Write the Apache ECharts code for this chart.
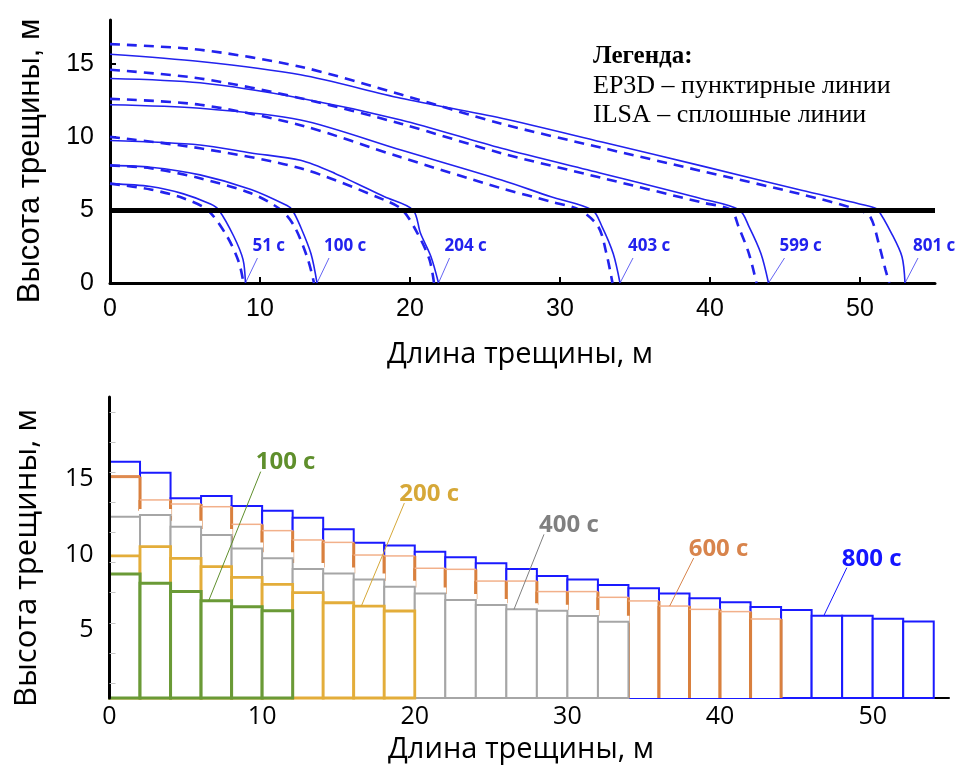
<!DOCTYPE html>
<html><head><meta charset="utf-8">
<script src="https://cdn.jsdelivr.net/npm/echarts@6/dist/echarts.min.js"></script>
<style>html,body{margin:0;padding:0;background:#fff}#c{width:958px;height:776px}</style>
</head><body><div id="c"></div>
<script>
// ================= TOP CHART DATA (crack profiles, [length m, height m]) =================
const topLabels = ['51 с', '100 с', '204 с', '403 с', '599 с', '801 с'];
// ILSA – solid lines
const ILSA_51  = [[0,6.8],[2.7,6.6],[4.9,6.1],[6.7,5.4],[7.25,5.0],[8.25,3.2],[8.87,1.6],[9.03,0]];
const ILSA_100 = [[0,8.05],[2.7,7.92],[6.0,7.4],[9.4,6.4],[11.8,5.3],[12.15,5.0],[12.7,3.86],[13.4,2.0],[13.8,0]];
const ILSA_204 = [[0,9.75],[6.0,9.45],[9.4,8.9],[12.7,8.4],[15.0,7.5],[18.3,5.9],[20.2,5.0],[20.7,3.4],[21.4,1.8],[21.9,0]];
const ILSA_403 = [[0,12.2],[6.0,11.96],[12.7,11.16],[19.4,9.1],[26.1,7.05],[29.4,5.9],[32.15,5.0],[32.8,3.86],[33.55,2.0],[34.0,0]];
const ILSA_599 = [[0,14.0],[6.0,13.7],[12.7,12.65],[19.4,11.16],[26.1,9.22],[32.8,7.5],[39.5,5.75],[41.96,5.0],[42.6,3.86],[43.4,2.0],[43.9,0]];
const ILSA_801 = [[0,15.66],[6.0,15.16],[12.7,14.25],[19.4,12.65],[26.1,11.28],[32.8,9.65],[39.5,8.0],[46.1,6.35],[50.8,5.2],[51.2,5.0],[52.1,3.4],[52.8,1.8],[53.0,0]];
// EP3D – dashed lines
const EP3D_51  = [[0,6.8],[2.7,6.4],[4.9,5.8],[6.5,5.0],[7.8,3.2],[8.6,1.4],[8.9,0]];
const EP3D_100 = [[0,8.05],[2.7,7.85],[6.0,7.17],[9.4,6.14],[11.4,5.0],[12.3,3.86],[13.2,1.6],[13.6,0]];
const EP3D_204 = [[0,10.0],[6.0,9.22],[12.7,7.85],[18.3,5.68],[19.5,5.0],[20.5,3.4],[21.3,1.6],[21.6,0]];
const EP3D_403 = [[0,12.6],[6.0,12.2],[12.7,10.8],[19.4,8.6],[26.1,6.48],[29.4,5.57],[31.3,5.0],[32.55,3.86],[33.1,2.0],[33.5,0]];
const EP3D_599 = [[0,14.6],[6.0,14.0],[12.7,12.65],[19.4,10.9],[26.1,8.88],[32.8,7.19],[39.5,5.5],[41.4,5.0],[41.9,3.86],[42.6,2.0],[43.1,0]];
const EP3D_801 = [[0,16.35],[6.0,15.96],[12.7,14.8],[19.4,12.9],[26.1,10.9],[32.8,9.25],[39.5,7.65],[46.1,6.07],[49.9,5.0],[50.7,4.5],[51.3,2.5],[51.7,0.9],[51.95,0]];
const barrierDepth = 5;
const topXTicks = [0, 10, 20, 30, 40, 50];
const topYTicks = [0, 5, 10, 15];

// ================= BOTTOM CHART DATA (cell heights, m; cells 2 m wide) =================
const cellWidth = 2;
const bottomLabels = ['800 с', '600 с', '400 с', '200 с', '100 с'];
const H_800 = [15.70,14.97,13.27,13.42,12.76,12.45,11.98,11.21,10.32,10.14,9.72,9.35,8.95,8.57,8.11,7.88,7.51,7.29,6.95,6.62,6.36,6.05,5.85,5.47,5.47,5.27,5.09];
const H_600 = [14.71,13.16,12.89,12.71,11.54,11.12,10.50,10.34,9.50,9.44,8.62,8.55,7.77,7.77,7.07,7.07,6.69,6.45,6.11,5.89,5.74,5.25];
const H_400 = [12.05,12.16,11.38,10.83,9.94,9.28,8.57,8.28,7.88,7.40,6.95,6.51,6.18,5.89,5.80,5.45,5.07];
const H_200 = [9.44,10.06,9.28,8.73,8.02,7.55,7.00,6.33,6.11,5.78];
const H_100 = [8.24,7.62,7.07,6.47,6.07,5.80];
// where each label's leader touches its profile (crack length, m)
const bottomLabelAnchorX = [46.8, 36.7, 26.5, 16.5, 6.5];
const bottomXTicks = [0, 10, 20, 30, 40, 50];
const bottomYTicks = [5, 10, 15];
const bottomYMinorTicks = [1, 3, 5, 7, 9, 11, 13, 15, 17, 19];

// ================= STYLES =================
const BLUE_TOP = '#2222ee';
const bottomColors = ['#1a1aff', '#d98540', '#a6a6a6', '#e3ad3a', '#6a9a36'];
const bottomLabelColors = ['#1515ff', '#d8844c', '#808080', '#d6a838', '#5f8f2c'];
const topLabelOffsets = [[12,-25],[12,-25],[11,-25],[13,-25],[16,-25],[13,-25]];
const bottomLabelOffsets = [[23,-48],[24,-48],[30,-75],[43,-103],[52,-129]];

const chart = echarts.init(document.getElementById('c'), null, {renderer: 'canvas'});

function cells(h) {
  return h.map((v, i) => [i * cellWidth, (i + 1) * cellWidth, v]);
}

function rectRender(color, lw) {
  return function (params, api) {
    const p0 = api.coord([api.value(0), api.value(2)]);
    const p1 = api.coord([api.value(1), 0]);
    return {
      type: 'rect',
      shape: {x: p0[0], y: p0[1], width: p1[0] - p0[0], height: p1[1] - p0[1]},
      style: {fill: '#ffffff', stroke: color, lineWidth: lw}
    };
  };
}
// orange profile: thin light top, thick sides
function orangeRender(params, api) {
  const p0 = api.coord([api.value(0), api.value(2)]);
  const p1 = api.coord([api.value(1), 0]);
  const first = params.dataIndex === 0;
  return {
    type: 'group',
    children: [
      {type: 'rect', shape: {x: p0[0], y: p0[1], width: p1[0] - p0[0], height: p1[1] - p0[1]}, style: {fill: '#ffffff'}},
      {type: 'line', shape: {x1: p0[0], y1: p0[1], x2: p0[0], y2: p1[1]}, style: {stroke: '#d9803e', lineWidth: 3}},
      {type: 'line', shape: {x1: p1[0], y1: p0[1], x2: p1[0], y2: p1[1]}, style: {stroke: '#d9803e', lineWidth: 3}},
      {type: 'line', shape: {x1: p0[0], y1: p0[1], x2: p1[0], y2: p0[1]}, style: {stroke: first ? '#df8a4f' : '#f2b08a', lineWidth: first ? 3 : 1.5}}
    ]
  };
}
// white halo above the grey profile
function haloRender(params, api) {
  const p0 = api.coord([api.value(0), api.value(2)]);
  const p1 = api.coord([api.value(1), 0]);
  return {type: 'rect', shape: {x: p0[0] - 1, y: p0[1] - 6, width: p1[0] - p0[0] + 2, height: 7}, style: {fill: '#ffffff'}};
}

function annotRender(text, color, off, font, lw, ty) {
  return function (params, api) {
    const p = api.coord([api.value(0), api.value(1)]);
    const q = [p[0] + off[0], p[1] + off[1]];
    return {
      type: 'group',
      children: [
        {type: 'line', shape: {x1: p[0], y1: p[1], x2: q[0], y2: q[1]}, style: {stroke: color, lineWidth: lw}},
        {type: 'text', x: q[0] - 5, y: q[1] + ty, style: {text: text, fill: color, font: font, align: 'left', verticalAlign: 'bottom'}}
      ]
    };
  };
}

const ILSA = [ILSA_51, ILSA_100, ILSA_204, ILSA_403, ILSA_599, ILSA_801];
const EP3D = [EP3D_51, EP3D_100, EP3D_204, EP3D_403, EP3D_599, EP3D_801];

const series = [];
// top chart
ILSA.forEach((d, i) => {
  series.push({type: 'line', xAxisIndex: 0, yAxisIndex: 0, data: d, smooth: 0.3,
    showSymbol: false, symbol: 'none', lineStyle: {color: BLUE_TOP, width: 1.6}, z: 3});
  series.push({type: 'line', xAxisIndex: 0, yAxisIndex: 0, data: EP3D[i], smooth: 0.3,
    showSymbol: false, symbol: 'none', lineStyle: {color: BLUE_TOP, width: 2.6, type: [10, 7]}, z: 3});
});
series.push({type: 'line', xAxisIndex: 0, yAxisIndex: 0, data: [], z: 5,
  markLine: {silent: true, symbol: 'none', label: {show: false},
    lineStyle: {color: '#000', width: 5, type: 'solid'}, data: [{yAxis: barrierDepth}]}});
ILSA.forEach((d, i) => {
  const last = d[d.length - 1];
  series.push({type: 'custom', xAxisIndex: 0, yAxisIndex: 0, z: 6, clip: false,
    data: [[last[0], last[1]]],
    renderItem: annotRender(topLabels[i], BLUE_TOP, topLabelOffsets[i], 'bold 17px "Open Sans"', 0.7, -3)});
});

// bottom chart (drawn from latest to earliest)
const H = [H_800, H_600, H_400, H_200, H_100];
series.push({type: 'custom', xAxisIndex: 1, yAxisIndex: 1, data: cells(H_800), renderItem: rectRender(bottomColors[0], 2), z: 2});
series.push({type: 'custom', xAxisIndex: 1, yAxisIndex: 1, data: cells(H_600), renderItem: orangeRender, z: 2});
series.push({type: 'custom', xAxisIndex: 1, yAxisIndex: 1, data: cells(H_400), renderItem: haloRender, z: 2});
series.push({type: 'custom', xAxisIndex: 1, yAxisIndex: 1, data: cells(H_400), renderItem: rectRender(bottomColors[2], 2), z: 2});
series.push({type: 'custom', xAxisIndex: 1, yAxisIndex: 1, data: cells(H_200), renderItem: rectRender(bottomColors[3], 2.8), z: 2});
series.push({type: 'custom', xAxisIndex: 1, yAxisIndex: 1, data: cells(H_100), renderItem: rectRender(bottomColors[4], 3), z: 2});
H.forEach((h, i) => {
  const ax = bottomLabelAnchorX[i];
  const ay = h[Math.floor(ax / cellWidth)];
  series.push({type: 'custom', xAxisIndex: 1, yAxisIndex: 1, z: 6, clip: false,
    data: [[ax, ay]],
    renderItem: annotRender(bottomLabels[i], bottomLabelColors[i], bottomLabelOffsets[i], 'bold 24px "Open Sans"', 1, 3)});
});

const option = {
  animation: false,
  backgroundColor: '#ffffff',
  grid: [
    {left: 110, right: 23, top: 20, bottom: 493, containLabel: false},
    {left: 109.5, right: 9, top: 397, bottom: 78, containLabel: false}
  ],
  xAxis: [
    {type: 'value', gridIndex: 0, min: 0, max: 55, interval: 10,
      axisLine: {show: true, onZero: false, lineStyle: {color: '#000', width: 3}},
      axisTick: {show: true, inside: true, length: 6, lineStyle: {color: '#000', width: 2}, customValues: topXTicks.slice(1)},
      axisLabel: {customValues: topXTicks, color: '#000', fontFamily: '"Liberation Sans"', fontSize: 25, margin: 14},
      splitLine: {show: false}},
    {type: 'value', gridIndex: 1, min: 0, max: 55, interval: 10,
      axisLine: {show: true, onZero: false, lineStyle: {color: '#000', width: 2}},
      axisTick: {show: false},
      axisLabel: {customValues: bottomXTicks, color: '#000', fontFamily: '"Open Sans"', fontSize: 25, margin: 6},
      splitLine: {show: false}}
  ],
  yAxis: [
    {type: 'value', gridIndex: 0, min: 0, max: 18, interval: 5,
      axisLine: {show: true, onZero: false, lineStyle: {color: '#000', width: 3}},
      axisTick: {show: true, inside: true, length: 6, lineStyle: {color: '#000', width: 2}, customValues: topYTicks.slice(1)},
      axisLabel: {customValues: topYTicks, color: '#000', fontFamily: '"Liberation Sans"', fontSize: 25, margin: 16},
      splitLine: {show: false}},
    {type: 'value', gridIndex: 1, min: 0, max: 20, interval: 5, z: 5,
      axisLine: {show: true, onZero: false, lineStyle: {color: '#000', width: 3}},
      axisTick: {show: true, inside: true, length: 6, lineStyle: {color: '#c4c4c4', width: 1}, customValues: bottomYMinorTicks},
      axisLabel: {customValues: bottomYTicks, color: '#000', fontFamily: '"Open Sans"', fontSize: 25, margin: 16,
        verticalAlign: 'top', lineHeight: 14},
      splitLine: {show: false}}
  ],
  graphic: [
    {type: 'text', x: 30, y: 161, rotation: Math.PI / 2, z: 10,
      style: {text: 'Высота трещины, м', font: '31px "Liberation Sans"', fill: '#000', align: 'center', verticalAlign: 'middle'}},
    {type: 'text', x: 520, y: 355, z: 10,
      style: {text: 'Длина трещины, м', font: '29px "Open Sans"', fill: '#000', align: 'center', verticalAlign: 'middle'}},
    {type: 'text', x: 27, y: 558, rotation: Math.PI / 2, z: 10,
      style: {text: 'Высота трещины, м', font: '31px "Open Sans"', fill: '#000', align: 'center', verticalAlign: 'middle'}},
    {type: 'text', x: 521, y: 750, z: 10,
      style: {text: 'Длина трещины, м', font: '29px "Open Sans"', fill: '#000', align: 'center', verticalAlign: 'middle'}},
    {type: 'text', x: 593, y: 44, z: 10,
      style: {text: 'Легенда:', font: 'bold 25px "Liberation Serif"', fill: '#000', align: 'left', verticalAlign: 'alphabetic'}},
    {type: 'text', x: 593, y: 73, z: 10,
      style: {text: 'EP3D – пунктирные линии', font: '26px "Liberation Serif"', fill: '#000', align: 'left', verticalAlign: 'alphabetic'}},
    {type: 'text', x: 593, y: 102, z: 10,
      style: {text: 'ILSA – сплошные линии', font: '26px "Liberation Serif"', fill: '#000', align: 'left', verticalAlign: 'alphabetic'}}
  ],
  series: series
};
chart.setOption(option);
</script>
</body></html>
